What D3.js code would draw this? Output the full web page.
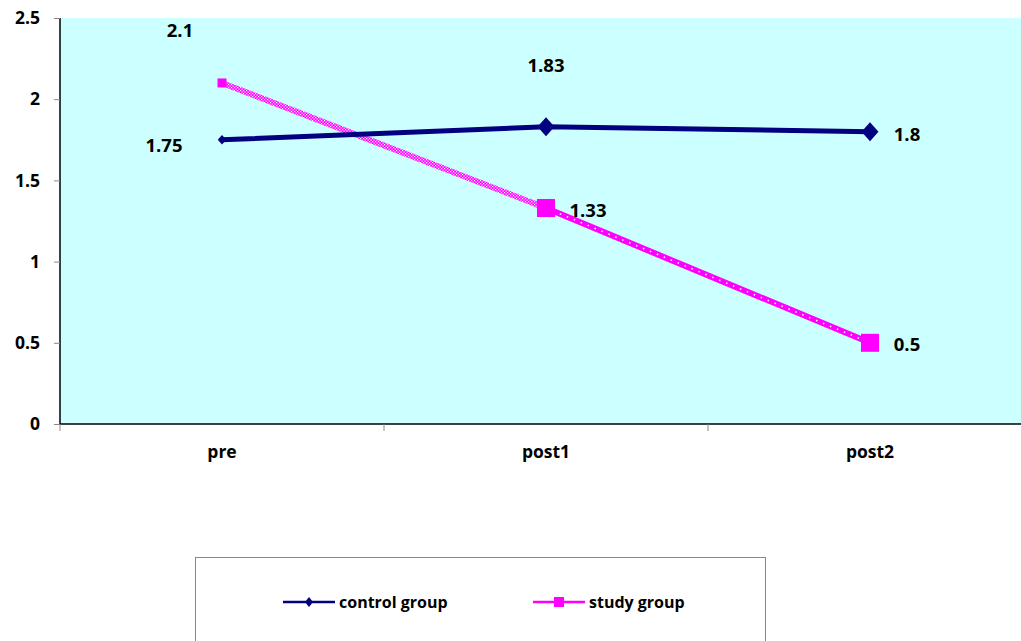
<!DOCTYPE html>
<html><head><meta charset="utf-8">
<script src="https://cdn.jsdelivr.net/npm/d3@7"></script>
<style>body{margin:0;background:#fff}svg{display:block}text{font-family:"Open Sans",sans-serif;font-weight:700}</style>
</head><body><svg id="c" width="1021" height="641"></svg>
<script>
const categories = ["pre","post1","post2"];
const controlValues = [1.75,1.83,1.8];
const studyValues = [2.1,1.33,0.5];
const yTicks = [0,0.5,1,1.5,2,2.5];
const seriesNames = ["control group","study group"];

const svg = d3.select("#c");
const x = d3.scaleBand().domain(categories).range([60,1032]);
const y = d3.scaleLinear().domain([0,2.5]).range([424,18]);
const cx = c => x(c) + x.bandwidth()/2;

const defs = svg.append("defs");
const pat = defs.append("pattern").attr("id","chk").attr("patternUnits","userSpaceOnUse").attr("width",3).attr("height",3);
pat.append("rect").attr("width",3).attr("height",3).attr("fill","#FF00FF");
pat.append("rect").attr("width",1.2).attr("height",1.2).attr("fill","#fff");
pat.append("rect").attr("x",1.5).attr("y",1.5).attr("width",1.2).attr("height",1.2).attr("fill","#fff");

svg.append("rect").attr("x",60).attr("y",18).attr("width",961).attr("height",406).attr("fill","#CCFFFF");

// y axis
const ya = svg.append("g").attr("transform","translate(60,0)").call(d3.axisLeft(y).tickValues(yTicks).tickSize(6).tickPadding(14).tickFormat(d=>d));
ya.select(".domain").attr("stroke","#000").attr("stroke-width",1.5).attr("d","M0,18V424");
ya.selectAll(".tick line").attr("stroke","#888");
ya.selectAll("text").attr("font-size",17.5).attr("font-family","Open Sans").attr("font-weight",700).attr("fill","#000");

// x axis
const xa = svg.append("g").attr("transform","translate(0,424)").call(d3.axisBottom(x).tickSize(0).tickPadding(22));
xa.select(".domain").attr("stroke","#000").attr("stroke-width",1.5).attr("d","M60,0H1021");
xa.selectAll("text").attr("font-size",17.5).attr("font-family","Open Sans").attr("font-weight",700).attr("fill","#000");
svg.append("g").selectAll("line").data(categories).join("line")
  .attr("x1",d=>x(d)).attr("x2",d=>x(d)).attr("y1",424).attr("y2",431).attr("stroke","#888");

// study line
const sp = categories.map((c,i)=>[cx(c),y(studyValues[i])]);
svg.append("line").attr("x1",sp[0][0]).attr("y1",sp[0][1]).attr("x2",sp[1][0]).attr("y2",sp[1][1]).attr("stroke","url(#chk)").attr("stroke-width",6);
svg.append("line").attr("x1",sp[1][0]).attr("y1",sp[1][1]).attr("x2",sp[2][0]).attr("y2",sp[2][1]).attr("stroke","#FF00FF").attr("stroke-width",6);
svg.append("line").attr("x1",sp[1][0]).attr("y1",sp[1][1]).attr("x2",sp[2][0]).attr("y2",sp[2][1]).attr("stroke","#fff").attr("stroke-width",1.6).attr("stroke-dasharray","1.5,6");

// control line
const line = d3.line().x(d=>d[0]).y(d=>d[1]);
const cp = categories.map((c,i)=>[cx(c),y(controlValues[i])]);
svg.append("path").attr("d",line(cp)).attr("fill","none").attr("stroke","#000080").attr("stroke-width",5);

// markers
const msize = [0.5,1,1];
svg.selectAll(".sq").data(sp).join("rect")
  .attr("x",(d,i)=>d[0]-9*msize[i]).attr("y",(d,i)=>d[1]-9*msize[i])
  .attr("width",(d,i)=>18*msize[i]).attr("height",(d,i)=>18*msize[i]).attr("fill","#FF00FF");
svg.selectAll(".dm").data(cp).join("path")
  .attr("d",(d,i)=>{const s=msize[i];return `M${d[0]},${d[1]-9.5*s}L${d[0]+8.5*s},${d[1]}L${d[0]},${d[1]+9.5*s}L${d[0]-8.5*s},${d[1]}Z`;})
  .attr("fill","#000080");

// data labels
const lab = (t,px,py)=>svg.append("text").attr("x",px).attr("y",py).attr("text-anchor","middle").attr("dominant-baseline","central").attr("font-size",18.5).text(t);
lab(controlValues[0], cx("pre")-58, y(controlValues[0])+5);
lab(controlValues[1], cx("post1"), y(controlValues[1])-62);
lab(controlValues[2], cx("post2")+37, y(controlValues[2])+2);
lab(studyValues[0], cx("pre")-42, y(studyValues[0])-53);
lab(studyValues[1], cx("post1")+42, y(studyValues[1])+1);
lab(studyValues[2], cx("post2")+37, y(studyValues[2])+1);

// legend
svg.append("rect").attr("x",195.5).attr("y",557.5).attr("width",570).attr("height",100).attr("fill","#fff").attr("stroke","#888");
const leg = [{n:seriesNames[0],x:283,c:"#000080",m:"d"},{n:seriesNames[1],x:533,c:"#FF00FF",m:"s"}];
leg.forEach(l=>{
  svg.append("line").attr("x1",l.x).attr("x2",l.x+52).attr("y1",602).attr("y2",602).attr("stroke",l.c).attr("stroke-width",2.5);
  if(l.m==="d") svg.append("path").attr("d",`M${l.x+26},597L${l.x+30},602L${l.x+26},607L${l.x+22},602Z`).attr("fill",l.c);
  else svg.append("rect").attr("x",l.x+21).attr("y",597).attr("width",10).attr("height",10).attr("fill",l.c);
  svg.append("text").attr("x",l.x+56).attr("y",602).attr("dominant-baseline","central").attr("font-size",16).text(l.n);
});
</script></body></html>
